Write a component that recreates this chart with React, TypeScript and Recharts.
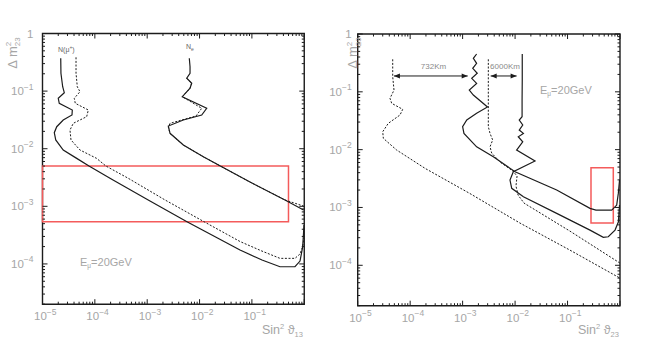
import React from 'react';
import { LineChart, Line, XAxis, YAxis, ReferenceArea } from 'recharts';

// tick values / labels (both panels share the same log axes)
const xLabelValues = [1e-5, 1e-4, 1e-3, 1e-2, 1e-1];
const xLabelExps = ['\u22125', '\u22124', '\u22123', '\u22122', '\u22121'];
const yLabelValues = [1, 1e-1, 1e-2, 1e-3, 1e-4];
const yLabelExps = ['', '\u22121', '\u22122', '\u22123', '\u22124'];
const xDecades = [1e-5, 1e-4, 1e-3, 1e-2, 1e-1, 1];
const yDecades = [1e-5, 1e-4, 1e-3, 1e-2, 1e-1, 1];
const mantissas = [2, 3, 4, 5, 6, 7, 8, 9];

// left panel: sin^2 theta13 vs dm^2_23
const muSolidL = [
  [2.23e-5, 0.371], [2.25e-5, 0.204], [2.43e-5, 0.119], [2.61e-5, 0.0938], [2.0e-5, 0.075],
  [2.09e-5, 0.0614], [3.71e-5, 0.047], [3.66e-5, 0.0385], [2.49e-5, 0.0315], [1.87e-5, 0.0241],
  [1.68e-5, 0.019], [1.79e-5, 0.0142], [2.49e-5, 0.0095], [4.5e-5, 0.0068], [7.73e-5, 0.005],
  [2.1e-4, 0.00294], [1.13e-3, 1.24e-3], [5.75e-3, 5.4e-4], [0.0593, 1.74e-4], [0.156, 1.17e-4],
  [0.344, 8.94e-5], [0.665, 8.94e-5], [0.83, 1.12e-4], [0.933, 1.97e-4], [0.99, 4.73e-4],
];
const muDottedL = [
  [4.37e-5, 0.386], [4.37e-5, 0.204], [4.62e-5, 0.119], [5.2e-5, 0.0977], [4.05e-5, 0.075],
  [4.23e-5, 0.0614], [7.5e-5, 0.047], [6.98e-5, 0.036], [3.87e-5, 0.0276], [3.35e-5, 0.0211],
  [3.5e-5, 0.0142], [5.2e-5, 0.0095], [1.08e-4, 0.0068], [1.63e-4, 0.005], [4.36e-4, 3.06e-3],
  [2.19e-3, 1.29e-3], [0.0122, 5.4e-4], [0.0593, 2.45e-4], [0.156, 1.67e-4], [0.344, 1.25e-4],
  [0.665, 1.25e-4], [0.83, 1.49e-4], [0.927, 1.97e-4], [0.99, 2.82e-4],
];
const eSolidL = [
  [6.37e-3, 0.371], [6.58e-3, 0.265], [6.58e-3, 0.204], [5.69e-3, 0.167], [7.08e-3, 0.137],
  [6.58e-3, 0.112], [4.68e-3, 0.08], [0.0137, 0.0503], [0.011, 0.0385], [4.9e-3, 0.0315],
  [2.53e-3, 0.0248], [2.73e-3, 0.0185], [4.9e-3, 0.0116], [0.0118, 7.26e-3], [0.0265, 4.87e-3],
  [0.092, 2.64e-3], [0.428, 1.29e-3], [0.97, 8.63e-4],
];
const eDottedL = [
  [5.69e-3, 0.167], [7.08e-3, 0.137], [6.58e-3, 0.112], [4.68e-3, 0.08], [0.011, 0.0503],
  [8.55e-3, 0.037], [2.73e-3, 0.0276], [2.53e-3, 0.0238], [2.73e-3, 0.0185], [4.9e-3, 0.0116],
  [0.0118, 7.26e-3], [0.0265, 4.87e-3], [0.092, 2.64e-3], [0.428, 1.29e-3], [0.97, 1.01e-3],
];
const boxL = { x: [1e-5, 0.5], y: [5.4e-4, 5e-3] };

// right panel: sin^2 theta23 vs dm^2_23 (732 km and 6000 km baselines)
const km732Dotted = [
  [4.65e-5, 0.365], [4.65e-5, 0.183], [4.92e-5, 0.107], [4.13e-5, 0.0772], [4.45e-5, 0.0632],
  [7.21e-5, 0.0498], [6.4e-5, 0.0397], [3.83e-5, 0.0285], [3.0e-5, 0.0204], [3.08e-5, 0.0157],
  [5.53e-5, 9.84e-3], [1.92e-4, 4.75e-3], [1.38e-3, 1.74e-3], [0.0124, 5.37e-4], [0.111, 1.83e-4],
  [1.0, 6.0e-5],
];
const km732Solid = [
  [1.85e-3, 0.451], [1.6e-3, 0.38], [1.85e-3, 0.311], [1.56e-3, 0.255], [1.9e-3, 0.209],
  [1.49e-3, 0.171], [1.85e-3, 0.14], [1.34e-3, 0.107], [1.6e-3, 0.088], [2.98e-3, 0.0546],
  [1.85e-3, 0.0425], [1.2e-3, 0.0325], [1.0e-3, 0.0249], [1.06e-3, 0.0191], [1.85e-3, 0.0112],
  [3.85e-3, 7.54e-3], [9.98e-3, 4.15e-3], [0.0621, 2.0e-3], [0.268, 9.64e-4], [0.348, 9.02e-4],
  [0.695, 9.02e-4], [0.865, 1.1e-3], [0.93, 1.77e-3], [0.98, 2.98e-3],
];
const km6000Dotted = [
  [3.09e-3, 0.365], [3.09e-3, 0.0249], [3.33e-3, 0.0191], [3.74e-3, 0.0147], [3.33e-3, 0.0112],
  [3.58e-3, 8.73e-3], [5.16e-3, 6.1e-3], [9.12e-3, 4.26e-3], [0.0109, 3.49e-3], [0.0104, 2.35e-3],
  [0.0114, 1.64e-3], [0.0148, 1.19e-3], [0.111, 3.9e-4], [1.0, 1.09e-4],
];
const km6000Solid = [
  [0.0137, 0.451], [0.0137, 0.16], [0.0136, 0.0721], [0.0136, 0.0371], [0.012, 0.0325],
  [0.014, 0.0267], [0.012, 0.0218], [0.0144, 0.0191], [0.0115, 0.0167], [0.014, 0.0137],
  [0.0107, 9.84e-3], [0.024, 6.35e-3], [9.25e-3, 4.15e-3], [8.0e-3, 2.98e-3], [8.63e-3, 2.14e-3],
  [0.0144, 1.53e-3], [0.0621, 7.9e-4], [0.268, 4.06e-4], [0.481, 3.04e-4], [0.598, 3.11e-4],
  [0.804, 4.06e-4], [0.93, 5.59e-4], [0.98, 1.1e-3],
];
const arrow732 = [[4.9e-5, 0.188], [1.25e-3, 0.188]];
const arrow6000 = [[3.43e-3, 0.188], [0.0107, 0.188]];
const boxR = { x: [0.28, 0.745], y: [5.4e-4, 4.86e-3] };

const FONT = '"Liberation Sans", Arial, Helvetica, sans-serif';
const GREY = '#a6a6a6';
const INK = '#1c1c1c';

const pts = (a: number[][]) => a.map(([x, y]) => ({ x, y }));
const lg = Math.log10;
const near = (a: number, b: number) => Math.abs(lg(a) - lg(b)) < 1e-6;
const isDecade = (v: number) => Math.abs(lg(v) - Math.round(lg(v))) < 1e-6;

const withMinors = (decades: number[], lo: number) => {
  const out: number[] = [];
  decades.forEach((d) => {
    if (d >= lo) out.push(d);
    if (d < 1) mantissas.forEach((m) => { if (m * d >= lo) out.push(m * d); });
  });
  return out;
};
const xTicks = withMinors(xDecades, 1e-5);
const yTicks = withMinors(yDecades, 2e-5);

function XTick(props: any) {
  const { x, y, payload, plotH } = props;
  const v = payload.value;
  const len = isDecade(v) ? 5 : 2.5;
  const i = xLabelValues.findIndex((t) => near(t, v));
  return (
    <g>
      <line x1={x} y1={y} x2={x} y2={y - len} stroke={INK} strokeWidth={1} />
      <line x1={x} y1={y - plotH} x2={x} y2={y - plotH + len} stroke={INK} strokeWidth={1} />
      {i >= 0 && (
        <text x={x - 8.5} y={y + 16} textAnchor="start" fill={GREY} fontSize={11.5} fontFamily={FONT}>
          10<tspan dy={-5.5} fontSize={8.5}>{xLabelExps[i]}</tspan>
        </text>
      )}
    </g>
  );
}

function YTick(props: any) {
  const { x, y, payload, plotW, gap } = props;
  const v = payload.value;
  const len = isDecade(v) ? 5 : 2.5;
  const i = yLabelValues.findIndex((t) => near(t, v));
  return (
    <g>
      <line x1={x} y1={y} x2={x + len} y2={y} stroke={INK} strokeWidth={1} />
      <line x1={x + plotW} y1={y} x2={x + plotW - len} y2={y} stroke={INK} strokeWidth={1} />
      {i >= 0 && (
        <text x={x - gap} y={y + 4} textAnchor="end" fill={GREY} fontSize={11.5} fontFamily={FONT}>
          {yLabelExps[i] === '' ? '1' : '10'}
          {yLabelExps[i] !== '' && <tspan dy={-5.5} fontSize={8.5}>{yLabelExps[i]}</tspan>}
        </text>
      )}
    </g>
  );
}

const arrowHead = (p: any) => {
  const { cx, cy, index } = p;
  const d = index === 0 ? 1 : -1;
  return (
    <polygon
      key={`ah-${index}-${cx}`}
      points={`${cx},${cy} ${cx + d * 6},${cy - 2.5} ${cx + d * 6},${cy + 2.5}`}
      fill={INK}
    />
  );
};

const leftSeries = [
  { id: 'muS', data: pts(muSolidL), dashed: false },
  { id: 'muD', data: pts(muDottedL), dashed: true },
  { id: 'eD', data: pts(eDottedL), dashed: true },
  { id: 'eS', data: pts(eSolidL), dashed: false },
];
const rightSeries = [
  { id: '732D', data: pts(km732Dotted), dashed: true },
  { id: '6000D', data: pts(km6000Dotted), dashed: true },
  { id: '732S', data: pts(km732Solid), dashed: false },
  { id: '6000S', data: pts(km6000Solid), dashed: false },
];

type PanelProps = {
  series: { id: string; data: { x: number; y: number }[]; dashed: boolean }[];
  box: { x: number[]; y: number[] };
  margin: { top: number; left: number; right: number; bottom: number };
  plotW: number;
  plotH: number;
  gap: number;
  arrows?: { x: number; y: number }[][];
};

// axes are 1px thick so Recharts still renders their ticks; margins are reduced by 1 to match
function Panel({ series, box, margin, plotW, plotH, gap, arrows = [] }: PanelProps) {
  return (
    <LineChart width={327} height={340} margin={margin}>
      <XAxis
        type="number"
        dataKey="x"
        scale="log"
        domain={[1e-5, 1]}
        allowDataOverflow
        ticks={xTicks}
        interval={0}
        height={1}
        axisLine={false}
        tickLine={false}
        tickSize={0}
        tickMargin={0}
        tick={(p: any) => <XTick {...p} plotH={plotH} />}
      />
      <YAxis
        type="number"
        dataKey="y"
        scale="log"
        domain={[2e-5, 1]}
        allowDataOverflow
        ticks={yTicks}
        interval={0}
        width={1}
        axisLine={false}
        tickLine={false}
        tickSize={0}
        tickMargin={0}
        tick={(p: any) => <YTick {...p} plotW={plotW} gap={gap} />}
      />
      <ReferenceArea x1={1e-5} x2={1} y1={2e-5} y2={1} fill="none" fillOpacity={0} stroke={INK} strokeWidth={1.4} />
      <ReferenceArea
        x1={box.x[0]}
        x2={box.x[1]}
        y1={box.y[0]}
        y2={box.y[1]}
        fill="none"
        fillOpacity={0}
        stroke="#f45b5b"
        strokeWidth={1.5}
      />
      {series.map((s) => (
        <Line
          key={s.id}
          data={s.data}
          dataKey="y"
          type="linear"
          stroke={INK}
          strokeWidth={s.dashed ? 1 : 1.2}
          strokeDasharray={s.dashed ? '2 1.6' : undefined}
          dot={false}
          activeDot={false}
          isAnimationActive={false}
        />
      ))}
      {arrows.map((a, k) => (
        <Line
          key={`arrow-${k}`}
          data={a}
          dataKey="y"
          type="linear"
          stroke={INK}
          strokeWidth={1}
          dot={arrowHead}
          activeDot={false}
          isAnimationActive={false}
        />
      ))}
    </LineChart>
  );
}

export default function App() {
  return (
    <div style={{ position: 'absolute', left: 0, top: 0, width: 654, height: 340, background: '#fff' }}>
      <div style={{ position: 'absolute', left: 0, top: 0 }}>
        <Panel
          series={leftSeries}
          box={boxL}
          margin={{ top: 33.5, left: 41.5, right: 22.75, bottom: 34.8 }}
          plotW={261.75}
          plotH={270.7}
          gap={9}
        />
      </div>
      <div style={{ position: 'absolute', left: 327, top: 0 }}>
        <Panel
          series={rightSeries}
          box={boxR}
          margin={{ top: 34, left: 29.7, right: 34, bottom: 33.3 }}
          plotW={262.3}
          plotH={271.7}
          gap={6}
          arrows={[pts(arrow732), pts(arrow6000)]}
        />
      </div>
      <svg
        width={654}
        height={340}
        style={{ position: 'absolute', left: 0, top: 0, pointerEvents: 'none' }}
        fontFamily={FONT}
      >
        {/* axis titles */}
        <text transform="translate(16.5,53) rotate(-90)" textAnchor="middle" fill={GREY} fontSize={13}>
          {'\u0394 m'}
          <tspan dy={-5.5} fontSize={8}>2</tspan>
          <tspan dx={-4.5} dy={9} fontSize={8}>23</tspan>
        </text>
        <text transform="translate(357,53) rotate(-90)" textAnchor="middle" fill={GREY} fontSize={13}>
          {'\u0394 m'}
          <tspan dy={-5.5} fontSize={8}>2</tspan>
          <tspan dx={-4.5} dy={9} fontSize={8}>23</tspan>
        </text>
        <text x={262} y={334} fill={GREY} fontSize={12.5}>
          Sin<tspan dy={-5} fontSize={7.5}>2</tspan>
          <tspan dy={5}>{' \u03d1'}</tspan>
          <tspan dy={3} fontSize={7.5}>13</tspan>
        </text>
        <text x={578} y={334} fill={GREY} fontSize={12.5}>
          Sin<tspan dy={-5} fontSize={7.5}>2</tspan>
          <tspan dy={5}>{' \u03d1'}</tspan>
          <tspan dy={3} fontSize={7.5}>23</tspan>
        </text>
        {/* curve labels */}
        <text x={58} y={51.5} fill="#666" fontSize={7}>
          {'N(\u03bc'}
          <tspan dy={-2.5} fontSize={5}>+</tspan>
          <tspan dy={2.5}>)</tspan>
        </text>
        <text x={186} y={49} fill="#666" fontSize={7}>
          N<tspan dy={1.5} fontSize={5}>e</tspan>
        </text>
        <text x={80} y={266} fill={GREY} fontSize={11}>
          E<tspan dy={2} fontSize={6.5}>{'\u03bc'}</tspan>
          <tspan dy={-2}>=20GeV</tspan>
        </text>
        <text x={540} y={94} fill={GREY} fontSize={11}>
          E<tspan dy={2} fontSize={6.5}>{'\u03bc'}</tspan>
          <tspan dy={-2}>=20GeV</tspan>
        </text>
        <text x={433.5} y={69} textAnchor="middle" fill="#8a8a8a" fontSize={8}>
          732Km
        </text>
        <text x={505} y={69} textAnchor="middle" fill="#8a8a8a" fontSize={8}>
          6000Km
        </text>
      </svg>
    </div>
  );
}
